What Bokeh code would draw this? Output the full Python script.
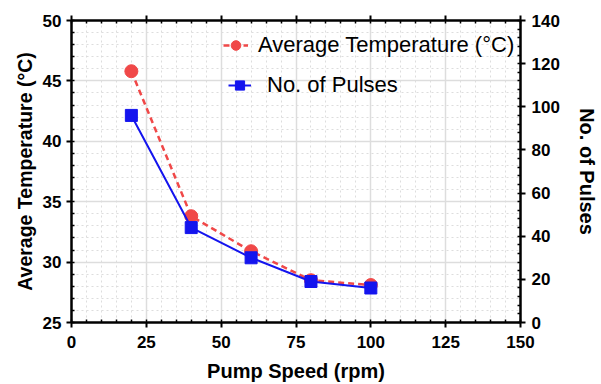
from bokeh.plotting import figure
from bokeh.models import (LinearAxis, Range1d, Legend, LegendItem, SingleIntervalTicker,
                          ColumnDataSource, CustomJSTickFormatter)
from bokeh.embed import file_html
from bokeh.resources import INLINE

pump_speed = [20, 40, 60, 80, 100]
avg_temp = [45.8, 33.8, 30.9, 28.5, 28.1]
pulses = [96, 44, 30, 19, 16]

FONT = "Liberation Sans"
RED = "#f04848"
BLUE = "#1414ee"

p = figure(width=600, height=384, output_backend="svg", toolbar_location=None,
           x_range=Range1d(0, 150), y_range=Range1d(25, 50),
           min_border_left=71, min_border_right=77, min_border_top=20, min_border_bottom=62)
p.extra_y_ranges = {"pulses": Range1d(0, 140)}
p.outline_line_color = "black"
p.outline_line_width = 2

def style_axis(ax):
    ax.axis_line_width = 2
    ax.axis_line_color = "black"
    ax.major_tick_line_width = 2
    ax.minor_tick_line_width = 1.5
    ax.major_tick_out = 5
    ax.major_tick_in = 0
    ax.minor_tick_out = 0
    ax.minor_tick_in = 3
    ax.major_label_text_font = FONT
    ax.major_label_text_font_style = "bold"
    ax.major_label_text_font_size = "17px"
    ax.major_label_text_color = "black"
    ax.axis_label_text_font = FONT
    ax.axis_label_text_font_style = "bold"
    ax.axis_label_text_font_size = "20px"
    ax.axis_label_text_color = "black"

xt = SingleIntervalTicker(interval=25, num_minor_ticks=5)
yt = SingleIntervalTicker(interval=5, num_minor_ticks=5)
rt = SingleIntervalTicker(interval=20, num_minor_ticks=5)

p.xaxis.ticker = xt
p.yaxis.ticker = yt
p.xaxis.axis_label = "Pump Speed (rpm)"
p.yaxis.axis_label = "Average Temperature (°C)"
style_axis(p.xaxis[0])
style_axis(p.yaxis[0])
p.yaxis.axis_label_text_font_size = "19.5px"
p.xaxis.major_label_standoff = 8
p.xaxis.axis_label_standoff = 9
p.yaxis.axis_label_standoff = 4

top = LinearAxis(ticker=xt, formatter=CustomJSTickFormatter(code="return ''"))
style_axis(top)
top.major_label_standoff = 0
p.add_layout(top, "above")

right = LinearAxis(y_range_name="pulses", ticker=rt, axis_label="No. of Pulses")
style_axis(right)
right.major_label_standoff = 6
right.axis_label_standoff = 13
p.add_layout(right, "right")

for g in (p.xgrid[0], p.ygrid[0]):
    g.grid_line_color = "#dddddd"
    g.grid_line_width = 1.5
    g.minor_grid_line_color = "#dddddd"
    g.minor_grid_line_dash = "2 3"
    g.minor_grid_line_width = 1

src = ColumnDataSource(dict(x=pump_speed, t=avg_temp, n=pulses))

l1 = p.line("x", "t", source=src, line_color=RED, line_width=2.5, line_dash="6 4")
m1 = p.scatter("x", "t", source=src, marker="circle", size=13, fill_color=RED, line_color=RED)
l2 = p.line("x", "n", source=src, y_range_name="pulses", line_color=BLUE, line_width=2)
m2 = p.scatter("x", "n", source=src, y_range_name="pulses", marker="square", size=12,
               fill_color=BLUE, line_color=BLUE)

common = dict(background_fill_alpha=0, border_line_alpha=0, label_text_font=FONT,
              label_text_font_size="22px", label_text_color="black",
              glyph_height=24, padding=0, margin=0)
leg1 = Legend(items=[LegendItem(label="Average Temperature (°C)", renderers=[l1, m1])],
              location=(152, 264), glyph_width=25, label_standoff=10, **common)
leg2 = Legend(items=[LegendItem(label="No. of Pulses", renderers=[l2, m2])],
              location=(157, 224), glyph_width=23, label_standoff=16, **common)
p.add_layout(leg1, "center")
p.add_layout(leg2, "center")

open("out.html", "w").write(file_html(p, INLINE))
